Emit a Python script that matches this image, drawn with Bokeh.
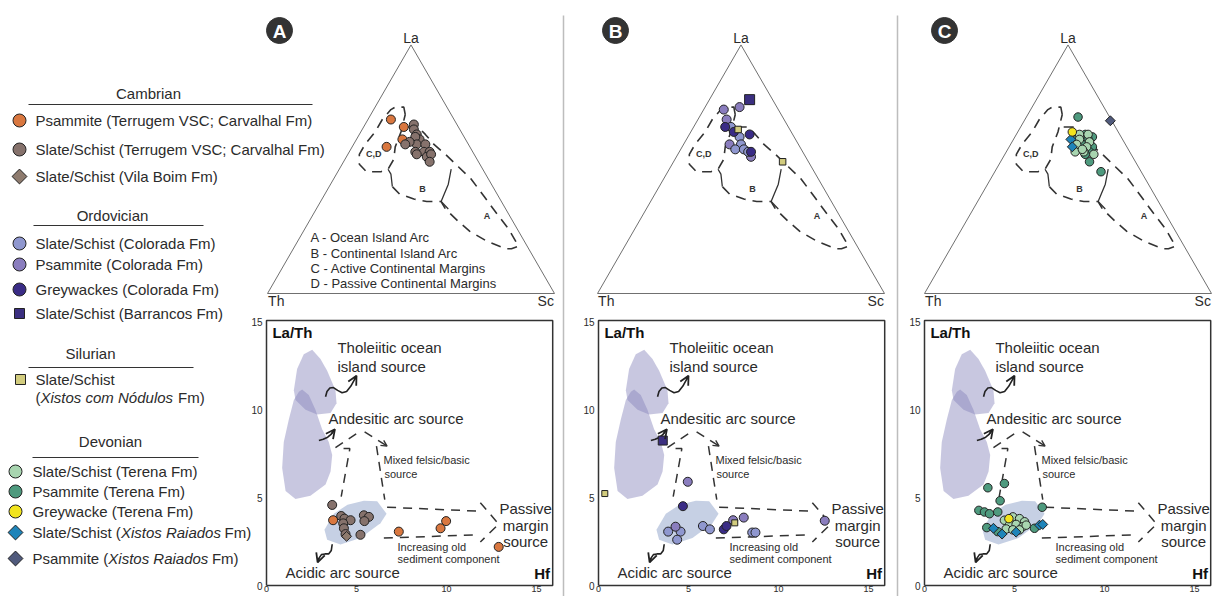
import math
from bokeh.plotting import figure
from bokeh.models import Range1d, Arrow, OpenHead
from bokeh.core.properties import value
from bokeh.embed import file_html
from bokeh.resources import INLINE

W, H = 1214, 596
FONT = value("Liberation Sans")

# ======================= DATA =======================
COL = {
    "cam_psm": "#D9773F", "cam_sla": "#86726C", "cam_vb": "#8E7B6E",
    "ord_sla": "#8F97CF", "ord_psm": "#8A7DBE", "ord_gw": "#3A2C86", "ord_bar": "#3B2F80",
    "sil": "#D2CC7E",
    "dev_sla": "#A8D5B0", "dev_psm": "#4E9A7E", "dev_gw": "#F2E41E",
    "dev_xr_sla": "#1E84B9", "dev_xr_psm": "#505A7C",
}

# ---- Ternary La-Th-Sc (%) ----
tA_psm_la = [70, 59, 67, 62]
tA_psm_th = [22, 29, 19, 22]
tA_psm_sc = [8, 12, 14, 16]
tA_sla_la = [68, 66, 64, 62, 63, 60, 60, 61, 57, 57, 57, 56, 55, 56, 53, 60]
tA_sla_th = [15, 16, 16, 16, 17, 18, 15, 20, 20, 17, 15, 20, 17, 15, 17, 22]
tA_sla_sc = [17, 18, 20, 22, 20, 22, 25, 19, 23, 26, 28, 24, 28, 29, 30, 18]
tB_bar_la, tB_bar_th, tB_bar_sc = [78], [8], [14]
tB_sil_la, tB_sil_th, tB_sil_sc = [66, 53], [18, 9], [16, 38]
tB_psm_la = [74, 75, 70, 60, 55]
tB_psm_th = [19, 13, 20, 24, 19]
tB_psm_sc = [7, 12, 10, 16, 26]
tB_sla_la = [67, 63, 60, 58, 58, 57]
tB_sla_th = [20, 19, 20, 23, 20, 19]
tB_sla_sc = [13, 18, 20, 19, 22, 24]
tB_gw_la = [67, 65, 64, 57]
tB_gw_th = [22, 20, 15, 18]
tB_gw_sc = [11, 15, 21, 25]
tC_psm_la = [71, 53, 49, 64, 63, 62, 62, 60, 59, 57, 56]
tC_psm_th = [11, 16, 14, 12, 10, 16, 12, 15, 12, 14, 16]
tC_psm_sc = [18, 31, 37, 24, 27, 22, 26, 25, 29, 29, 28]
tC_sla_la = [64, 64, 62, 61, 60, 59, 57, 57, 56, 58]
tC_sla_th = [14, 11, 15, 12, 17, 14, 19, 16, 13, 16]
tC_sla_sc = [22, 25, 23, 27, 23, 27, 24, 27, 31, 26]
tC_gw_la, tC_gw_th, tC_gw_sc = [65], [16], [19]
tC_xrs_la, tC_xrs_th, tC_xrs_sc = [62, 59], [18, 19], [20, 22]
tC_xrp_la, tC_xrp_th, tC_xrp_sc = [69.5], [0.5], [30]

# ---- Ternary discrimination fields (Bhatia & Crook) ----
cd_la = [72, 75, 75, 74, 70, 65, 60, 56, 52, 49, 49, 50, 54, 59, 65, 72]
cd_th = [16, 15, 18, 20, 25, 30, 36, 40, 42, 41, 36, 33, 29, 26, 21, 16]
cd_sc = [12, 10, 7, 6, 5, 5, 4, 4, 6, 10, 15, 17, 17, 15, 14, 12]
ab_la = [67, 67, 64, 60, 56, 51, 46, 39, 32, 26, 21, 19, 18, 18, 21, 25, 29, 34, 37, 37, 38, 40, 43]
ab_th = [18, 14, 13, 12, 10, 8, 6, 5, 4, 3, 3, 3, 6, 8, 13, 17, 19, 21, 21, 26, 30, 34, 35]
ab_sc = [15, 19, 23, 28, 34, 41, 48, 56, 64, 71, 76, 78, 76, 74, 66, 58, 52, 45, 42, 37, 32, 26, 22]
bcd_la, bcd_th, bcd_sc = [50, 48, 43], [33, 33, 35], [17, 19, 22]
abs_la, abs_th, abs_sc = [50, 44, 37, 34], [11, 15, 21, 20], [39, 41, 42, 46]
field_lab = ["C,D", "B", "A"]
field_la, field_th, field_sc = [56, 42, 31], [35, 25, 8], [9, 33, 61]

# ---- La/Th vs Hf ----
sA_sla_hf = [3.65, 4.15, 4.33, 4.67, 4.26, 4.30, 4.39, 5.41, 5.69, 5.44, 5.22]
sA_sla_lt = [4.59, 3.96, 3.81, 3.72, 3.54, 3.26, 2.93, 4.00, 3.91, 3.67, 2.89]
sA_vb_hf, sA_vb_lt = [4.45], [2.80]
sA_psm_hf = [3.70, 7.35, 9.67, 9.98, 12.90]
sA_psm_lt = [3.72, 3.07, 3.26, 3.67, 2.20]

sB_sil_hf, sB_sil_lt = [0.35, 7.57], [5.24, 3.57]
sB_bar_hf, sB_bar_lt = [3.57], [8.26]
sB_sla_hf = [3.87, 4.56, 4.37, 5.80, 6.19, 8.54, 8.72]
sB_sla_lt = [3.07, 3.07, 2.61, 3.39, 3.20, 3.02, 3.02]
sB_psm_hf = [4.96, 4.28, 7.48, 8.07, 12.57]
sB_psm_lt = [5.91, 3.35, 3.72, 3.87, 3.69]
sB_gw_hf = [4.69, 6.96, 7.11]
sB_gw_lt = [4.52, 3.20, 3.39]

sC_psm_hf = [3.52, 4.44, 4.20, 3.02, 3.33, 3.61, 4.07, 6.54, 3.46, 4.07, 6.11]
sC_psm_lt = [5.57, 5.81, 4.83, 4.28, 4.19, 4.09, 4.19, 4.46, 3.30, 3.07, 3.26]
sC_sla_hf = [4.44, 4.91, 5.28, 5.56, 4.72, 5.09, 5.46, 4.54, 4.91, 5.28, 5.65]
sC_sla_lt = [3.72, 3.91, 3.81, 3.63, 3.44, 3.48, 3.35, 3.22, 3.17, 3.17, 3.44]
sC_gw_hf, sC_gw_lt = [4.69], [3.81]
sC_xrs_hf = [3.83, 4.31, 5.09, 6.39, 6.57]
sC_xrs_lt = [3.26, 2.93, 3.04, 3.44, 3.48]

# ---- La/Th-Hf source fields and trends ----
thol_hf = [2.54, 3.0, 3.37, 3.83, 3.89, 3.56, 2.81, 2.17, 1.61, 1.52, 1.70, 2.07]
thol_lt = [13.44, 12.9, 12.24, 11.13, 10.39, 9.83, 9.74, 10.02, 10.57, 11.13, 12.33, 13.17]
ande_hf = [1.98, 2.35, 2.72, 3.09, 3.46, 3.65, 3.56, 3.28, 2.44, 1.61, 1.06, 0.87, 0.96, 1.24, 1.52, 1.80]
ande_lt = [11.17, 10.85, 10.02, 8.91, 8.17, 7.43, 6.5, 5.76, 5.11, 4.93, 5.39, 6.69, 8.17, 9.46, 10.57, 11.04]
acid_hf = [3.22, 3.74, 4.5, 5.41, 6.15, 6.67, 6.33, 5.22, 4.11, 3.37]
acid_lt = [3.17, 4.09, 4.6, 4.83, 4.80, 4.09, 3.54, 2.70, 2.33, 2.61]
roof1_hf, roof1_lt = [3.83, 5.22], [7.85, 8.81]
roof2_hf, roof2_lt = [5.45, 6.70], [8.76, 7.94]
brk_hf, brk_lt = [4.28, 4.63, 4.15], [7.80, 7.80, 5.06]
rvert_hf, rvert_lt = [6.11, 6.57], [7.94, 4.89]
ushaft_hf, ushaft_lt = [6.70, 11.70], [4.46, 4.24]
lshaft_hf, lshaft_lt = [6.52, 11.70], [2.70, 2.89]
head_hf = [11.88, 12.90, 11.88]
head_lt = [4.72, 3.50, 2.48]
sq1_hf = [3.28, 3.36, 3.52, 3.72, 3.95, 4.20, 4.45, 4.68, 4.88, 5.00]
sq1_lt = [10.76, 11.05, 11.25, 11.28, 11.12, 10.98, 11.05, 11.35, 11.72, 11.95]
sq2_hf = [2.91, 3.15, 3.40, 3.60, 3.80]
sq2_lt = [8.26, 8.33, 8.45, 8.63, 8.90]
sq3_hf = [3.65, 3.60, 3.45, 3.25, 3.05, 2.92, 2.84]
sq3_lt = [2.35, 2.00, 1.80, 1.80, 1.76, 1.56, 1.32]

y_ticks = [0, 5, 10, 15]
x_ticks = [0, 5, 10, 15]

# ======================= LAYOUT =======================
tern_X0 = {"A": 267, "B": 597, "C": 924}
scat_X0 = {"A": 266, "B": 598, "C": 924}
badge_X = {"A": 279, "B": 615, "C": 944}
BOX_R = 15.9
BOX_T = 15.1
KT = 287.0
KX = 18.0
OY_T = 293.0
OY_S = 585.0
KY = (OY_S - 320.0) / BOX_T

p = figure(width=W, height=H, x_range=Range1d(0, W), y_range=Range1d(H, 0),
           output_backend="svg", toolbar_location=None,
           x_axis_type=None, y_axis_type=None, min_border=0)
p.outline_line_color = None
p.background_fill_color = "white"
p.border_fill_color = "white"

xr, yr = {}, {}
for k, X0 in tern_X0.items():
    xr["t" + k] = Range1d(-X0 / KT, (W - X0) / KT)
    yr["t" + k] = Range1d((OY_T - H) / KT, OY_T / KT)
for k, X0 in scat_X0.items():
    xr["s" + k] = Range1d(-X0 / KX, (W - X0) / KX)
    yr["s" + k] = Range1d((OY_S - H) / KY, OY_S / KY)
p.extra_x_ranges = xr
p.extra_y_ranges = yr

INK = "#222222"
TXT = "#2b2b2b"


def tern(la, th, sc):
    xs, ys = [], []
    for a, b, c in zip(la, th, sc):
        s = float(a + b + c)
        xs.append((c + a / 2.0) / s)
        ys.append(a / s * math.sqrt(3) / 2.0)
    return xs, ys


def txt(x, y, t, size, rn=None, align="left", base="middle", style="normal", color=TXT):
    kw = {}
    if rn:
        kw = dict(x_range_name=rn[0], y_range_name=rn[1])
    p.text(x=x, y=y, text=t, text_font=FONT, text_font_size=size, text_align=align,
           text_baseline=base, text_font_style=style, text_color=color, **kw)


def mark(x, y, marker, size, color, rn, angle=0.0, lw=1.0):
    kw = {}
    if rn:
        kw = dict(x_range_name=rn[0], y_range_name=rn[1])
    p.scatter(x=x, y=y, marker=marker, size=size, fill_color=color, line_color=INK,
              line_width=lw, angle=angle, **kw)


# ---------- separators ----------
for X in (563, 897):
    p.line(x=[X, X], y=[15, H], line_color="#bdbdbd", line_width=1.5)

# ---------- legend ----------
def head(title, Xc, Y, X1, X2, Yl):
    txt([Xc], [Y], [title], "15px", align="center")
    p.line(x=[X1, X2], y=[Yl, Yl], line_color="#333333", line_width=1.2)


head("Cambrian", 148, 93, 28, 312, 104)
cam_txt = ["Psammite (Terrugem VSC; Carvalhal Fm)", "Slate/Schist (Terrugem VSC; Carvalhal Fm)",
           "Slate/Schist (Vila Boim Fm)"]
cam_Y = [120, 149, 176]
txt([35] * 3, cam_Y, cam_txt, "15px")
mark([19], [120], "circle", 13, COL["cam_psm"], None)
mark([19], [149], "circle", 13, COL["cam_sla"], None)
mark([19], [176], "square", 10.5, COL["cam_vb"], None, angle=math.pi / 4)

head("Ordovician", 112, 215, 33, 203, 225)
ord_txt = ["Slate/Schist (Colorada Fm)", "Psammite (Colorada Fm)", "Greywackes (Colorada Fm)",
           "Slate/Schist (Barrancos Fm)"]
ord_Y = [243, 264, 289, 313]
txt([35] * 4, ord_Y, ord_txt, "15px")
mark([19], [243], "circle", 13, COL["ord_sla"], None)
mark([19], [264], "circle", 13, COL["ord_psm"], None)
mark([19], [289], "circle", 13, COL["ord_gw"], None)
mark([19], [313], "square", 10, COL["ord_bar"], None)

head("Silurian", 90, 353, 28, 193, 367)
txt([35], [379], ["Slate/Schist"], "15px")
txt([35], [397], ["("], "15px")
txt([40.0], [397], ["Xistos com Nódulos"], "15px", style="italic")
txt([177.5], [397], ["Fm)"], "15px")
mark([20], [379], "square", 10, COL["sil"], None)

head("Devonian", 110, 441, 32, 198, 457)
dev_Y = [471, 491, 511, 532, 558]
txt([32] * 3, dev_Y[:3],
    ["Slate/Schist (Terena Fm)", "Psammite (Terena Fm)", "Greywacke (Terena Fm)"], "15px")
txt([32], [532], ["Slate/Schist ("], "15px")
txt([120.4], [532], ["Xistos Raiados"], "15px", style="italic")
txt([224.0], [532], ["Fm)"], "15px")
txt([32], [558], ["Psammite ("], "15px")
txt([107.8], [558], ["Xistos Raiados"], "15px", style="italic")
txt([211.4], [558], ["Fm)"], "15px")
mark([15], [471], "circle", 13, COL["dev_sla"], None)
mark([15], [491], "circle", 13, COL["dev_psm"], None)
mark([15], [511], "circle", 13, COL["dev_gw"], None)
mark([15], [532], "square", 10.5, COL["dev_xr_sla"], None, angle=math.pi / 4)
mark([15], [558], "square", 10.5, COL["dev_xr_psm"], None, angle=math.pi / 4)

# ---------- badges ----------
for k, X in badge_X.items():
    p.scatter(x=[X], y=[30], marker="circle", size=26, fill_color="#333333",
              line_color="#333333")
    txt([X], [31], [k], "19px", align="center", style="bold", color="white")

# ---------- ternary panels ----------
for k in ("A", "B", "C"):
    rn = ("t" + k, "t" + k)
    kw = dict(x_range_name=rn[0], y_range_name=rn[1])
    tx, ty = tern([100, 0, 0, 100], [0, 100, 0, 0], [0, 0, 100, 0])
    p.line(x=tx, y=ty, line_color="#707070", line_width=1, **kw)
    fx, fy = tern(cd_la, cd_th, cd_sc)
    p.line(x=fx, y=fy, line_color="#333333", line_width=1.6, line_dash="10 7", **kw)
    fx, fy = tern(ab_la, ab_th, ab_sc)
    p.line(x=fx, y=fy, line_color="#333333", line_width=1.6, line_dash="10 7", **kw)
    fx, fy = tern(bcd_la, bcd_th, bcd_sc)
    p.line(x=fx, y=fy, line_color="#333333", line_width=1.3, **kw)
    fx, fy = tern(abs_la, abs_th, abs_sc)
    p.line(x=fx, y=fy, line_color="#333333", line_width=1.3, **kw)
    fx, fy = tern(field_la, field_th, field_sc)
    txt(fx, fy, field_lab, "9px", rn=rn, align="center", style="bold", color="#333333")
    txt([0.5], [0.866 + 0.024], ["La"], "14px", rn=rn, align="center")
    txt([0.002], [-0.025], ["Th"], "14px", rn=rn, align="left")
    txt([0.998], [-0.025], ["Sc"], "14px", rn=rn, align="right")

expl = ["A - Ocean Island Arc", "B - Continental Island Arc", "C - Active Continental Margins",
        "D - Passive Continental Margins"]
expl_Y = [237, 253, 268, 283]
txt([310] * 4, expl_Y, expl, "13px")

rA, rB, rC = ("tA", "tA"), ("tB", "tB"), ("tC", "tC")
x, y = tern(tA_psm_la, tA_psm_th, tA_psm_sc); mark(x, y, "circle", 9, COL["cam_psm"], rA)
x, y = tern(tA_sla_la, tA_sla_th, tA_sla_sc); mark(x, y, "circle", 9, COL["cam_sla"], rA)

x, y = tern(tB_psm_la, tB_psm_th, tB_psm_sc); mark(x, y, "circle", 9, COL["ord_psm"], rB)
x, y = tern(tB_sla_la, tB_sla_th, tB_sla_sc); mark(x, y, "circle", 9, COL["ord_sla"], rB)
x, y = tern(tB_gw_la, tB_gw_th, tB_gw_sc); mark(x, y, "circle", 9, COL["ord_gw"], rB)
x, y = tern(tB_bar_la, tB_bar_th, tB_bar_sc); mark(x, y, "square", 10, COL["ord_bar"], rB)
x, y = tern(tB_sil_la, tB_sil_th, tB_sil_sc); mark(x, y, "square", 6.5, COL["sil"], rB)

x, y = tern(tC_psm_la, tC_psm_th, tC_psm_sc); mark(x, y, "circle", 8.5, COL["dev_psm"], rC)
x, y = tern(tC_sla_la, tC_sla_th, tC_sla_sc); mark(x, y, "circle", 8.5, COL["dev_sla"], rC)
x, y = tern(tC_xrs_la, tC_xrs_th, tC_xrs_sc); mark(x, y, "square", 7, COL["dev_xr_sla"], rC, angle=math.pi / 4)
x, y = tern(tC_gw_la, tC_gw_th, tC_gw_sc); mark(x, y, "circle", 8.5, COL["dev_gw"], rC)
x, y = tern(tC_xrp_la, tC_xrp_th, tC_xrp_sc); mark(x, y, "square", 7, COL["dev_xr_psm"], rC, angle=math.pi / 4)

# ---------- La/Th vs Hf panels ----------
for k in ("A", "B", "C"):
    rn = ("s" + k, "s" + k)
    kw = dict(x_range_name=rn[0], y_range_name=rn[1])
    p.patch(x=ande_hf, y=ande_lt, fill_color="#8682BB", fill_alpha=0.45, line_color=None, **kw)
    p.patch(x=thol_hf, y=thol_lt, fill_color="#8682BB", fill_alpha=0.45, line_color=None, **kw)
    p.patch(x=acid_hf, y=acid_lt, fill_color="#C6D0E4", fill_alpha=1.0, line_color=None, **kw)
    p.line(x=[0, BOX_R, BOX_R, 0, 0], y=[0, 0, BOX_T, BOX_T, 0], line_color="#333333",
           line_width=1.5, **kw)
    dash = dict(line_color="#333333", line_width=1.5, line_dash="9 7")
    for hx, ly in ((roof1_hf, roof1_lt), (roof2_hf, roof2_lt), (brk_hf, brk_lt),
                   (rvert_hf, rvert_lt), (ushaft_hf, ushaft_lt), (lshaft_hf, lshaft_lt),
                   (head_hf, head_lt)):
        p.line(x=hx, y=ly, **dash, **kw)
    p.add_layout(Arrow(end=OpenHead(size=6, line_width=1.3, line_color="#333333"),
                       x_start=roof2_hf[1] - 0.15, y_start=roof2_lt[1] + 0.1,
                       x_end=roof2_hf[1], y_end=roof2_lt[1], line_color="#333333",
                       line_width=1.3, x_range_name=rn[0], y_range_name=rn[1]))
    for (hx, ly) in ((sq1_hf, sq1_lt), (sq2_hf, sq2_lt), (sq3_hf, sq3_lt)):
        p.line(x=hx, y=ly, line_color="#222222", line_width=1.6, **kw)
        p.add_layout(Arrow(end=OpenHead(size=9, line_width=1.8, line_color="#222222"),
                           x_start=hx[-2], y_start=ly[-2], x_end=hx[-1], y_end=ly[-1],
                           line_color="#222222", line_width=1.6,
                           x_range_name=rn[0], y_range_name=rn[1]))
    txt([0.33], [14.44], ["La/Th"], "15px", rn=rn, style="bold", color="#111111")
    txt([BOX_R - 0.15], [0.67], ["Hf"], "15px", rn=rn, align="right", style="bold", color="#111111")
    txt([3.94, 3.94, 3.44, 1.06], [13.56, 12.5, 9.5, 0.72],
        ["Tholeiitic ocean", "island source", "Andesitic arc source", "Acidic arc source"],
        "15px", rn=rn)
    txt([14.4, 14.4, 14.4], [4.39, 3.44, 2.5], ["Passive", "margin", "source"], "15px",
        rn=rn, align="center")
    txt([6.5, 6.55, 7.28, 7.28], [7.17, 6.33, 2.22, 1.5],
        ["Mixed felsic/basic", "source", "Increasing old", "sediment component"], "11px", rn=rn)
    txt([-0.22] * 4, y_ticks, [str(t) for t in y_ticks], "10px", rn=rn, align="right")
    txt(x_ticks, [-0.04] * 4, [str(t) for t in x_ticks], "9px", rn=rn, align="center", base="top")

sA, sB, sC = ("sA", "sA"), ("sB", "sB"), ("sC", "sC")
mark(sA_sla_hf, sA_sla_lt, "circle", 9, COL["cam_sla"], sA)
mark(sA_vb_hf, sA_vb_lt, "square", 7, COL["cam_vb"], sA, angle=math.pi / 4)
mark(sA_psm_hf, sA_psm_lt, "circle", 9, COL["cam_psm"], sA)

mark(sB_sla_hf, sB_sla_lt, "circle", 9, COL["ord_sla"], sB)
mark(sB_psm_hf, sB_psm_lt, "circle", 9, COL["ord_psm"], sB)
mark(sB_gw_hf, sB_gw_lt, "circle", 9, COL["ord_gw"], sB)
mark(sB_bar_hf, sB_bar_lt, "square", 9, COL["ord_bar"], sB)
mark(sB_sil_hf, sB_sil_lt, "square", 6, COL["sil"], sB)

mark(sC_psm_hf, sC_psm_lt, "circle", 8.5, COL["dev_psm"], sC)
mark(sC_sla_hf, sC_sla_lt, "circle", 8.5, COL["dev_sla"], sC)
mark(sC_xrs_hf, sC_xrs_lt, "square", 7, COL["dev_xr_sla"], sC, angle=math.pi / 4)
mark(sC_gw_hf, sC_gw_lt, "circle", 8.5, COL["dev_gw"], sC)

open("out.html", "w").write(file_html(p, INLINE))
